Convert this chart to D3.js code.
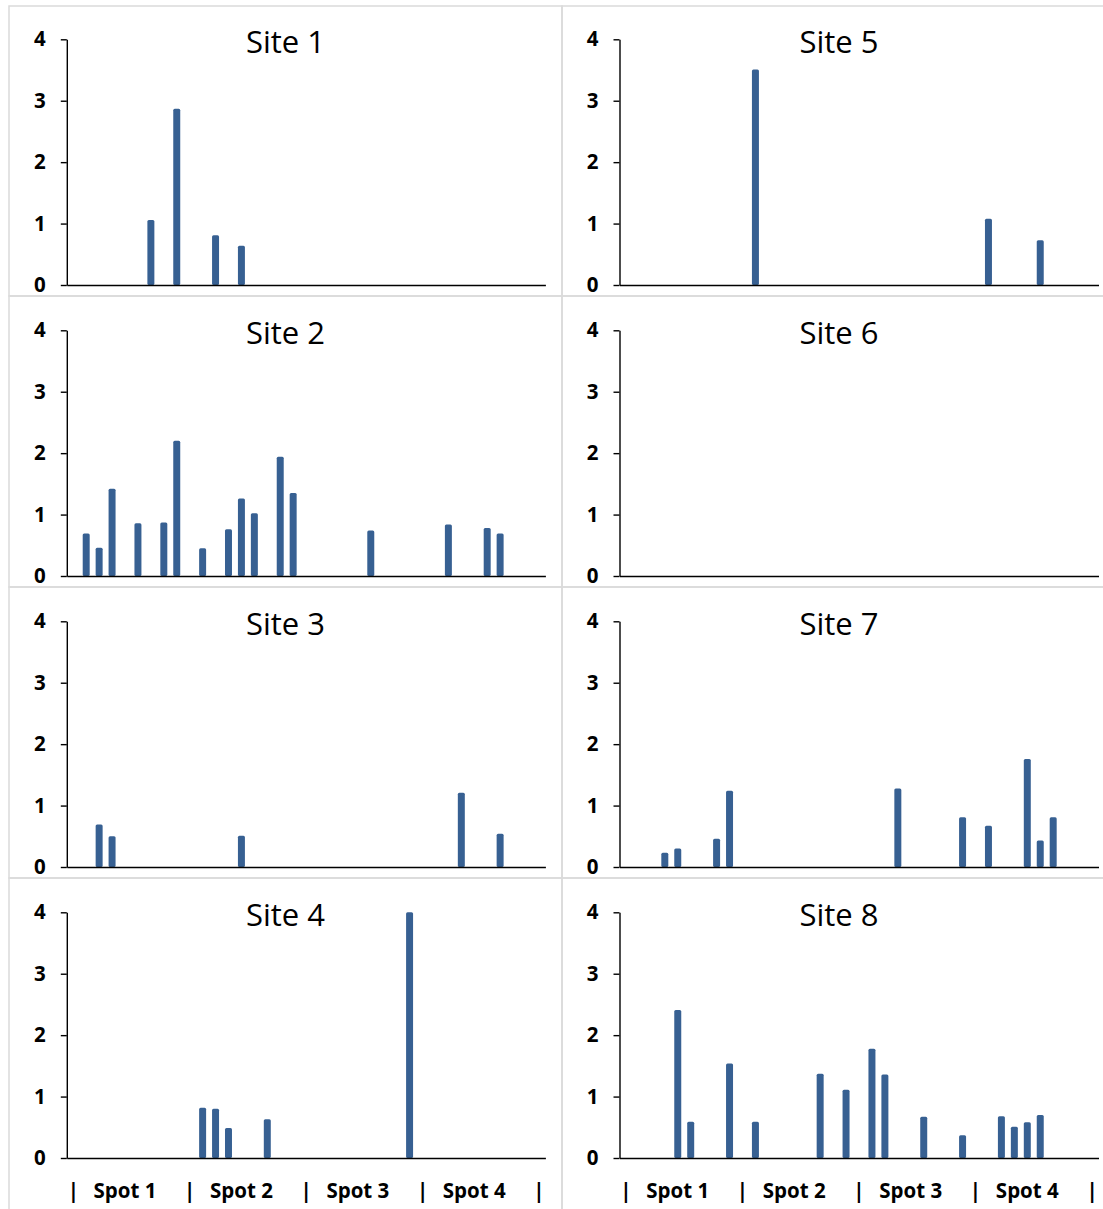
<!DOCTYPE html>
<html>
<head>
<meta charset="utf-8">
<script src="https://cdn.jsdelivr.net/npm/d3@7"></script>
<style>
  body { margin: 0; background: #fff; }
  text { font-family: "Open Sans", sans-serif; }
</style>
</head>
<body>
<svg id="chart" width="1103" height="1209"></svg>
<script>
// 37 slots along x, 9 per spot, "|" marks the spot borders
var slotLabels = ["|", "", "", "", "Spot 1", "", "", "", "",
                  "|", "", "", "", "Spot 2", "", "", "", "",
                  "|", "", "", "", "Spot 3", "", "", "", "",
                  "|", "", "", "", "Spot 4", "", "", "", "",
                  "|"];
var yTicks = [0, 1, 2, 3, 4];
var siteTitles = ["Site 1", "Site 2", "Site 3", "Site 4", "Site 5", "Site 6", "Site 7", "Site 8"];

var site1Slots = [6, 8, 11, 13];
var site1Values = [1.06, 2.87, 0.81, 0.64];
var site2Slots = [1, 2, 3, 5, 7, 8, 10, 12, 13, 14, 16, 17, 23, 29, 32, 33];
var site2Values = [0.69, 0.46, 1.42, 0.86, 0.87, 2.20, 0.45, 0.76, 1.26, 1.02, 1.94, 1.35, 0.74, 0.84, 0.78, 0.69];
var site3Slots = [2, 3, 13, 30, 33];
var site3Values = [0.69, 0.50, 0.51, 1.21, 0.54];
var site4Slots = [10, 11, 12, 15, 26];
var site4Values = [0.82, 0.80, 0.49, 0.63, 4.00];
var site5Slots = [10, 28, 32];
var site5Values = [3.51, 1.08, 0.73];
var site6Slots = [];
var site6Values = [];
var site7Slots = [3, 4, 7, 8, 21, 26, 28, 31, 32, 33];
var site7Values = [0.23, 0.30, 0.46, 1.24, 1.28, 0.81, 0.67, 1.76, 0.43, 0.81];
var site8Slots = [4, 5, 8, 10, 15, 17, 19, 20, 23, 26, 29, 30, 31, 32];
var site8Values = [2.41, 0.59, 1.54, 0.59, 1.37, 1.11, 1.78, 1.36, 0.67, 0.37, 0.68, 0.51, 0.58, 0.70];

var allSlots = [site1Slots, site2Slots, site3Slots, site4Slots, site5Slots, site6Slots, site7Slots, site8Slots];
var allValues = [site1Values, site2Values, site3Values, site4Values, site5Values, site6Values, site7Values, site8Values];

var barColor = '#376092';
var frameColor = '#dadada';
var rowStep = 291;
var rowTops = [6, 296, 587, 878];
var columns = [
  { frameX: 9, frameW: 553, x0: 66.8, x1: 545.4 },
  { frameX: 562, frameW: 554, x0: 619.5, x1: 1098.5 }
];

var svg = d3.select('#chart');

for (var p = 0; p < 8; p++) {
  var col = columns[Math.floor(p / 4)];
  var row = p % 4;
  var frameY = rowTops[row];
  var frameH = row == 3 ? 360 : rowTops[row + 1] - rowTops[row];
  var yTop = 39.3 + row * rowStep;
  var yBase = 285 + row * rowStep;

  var g = svg.append('g').attr('class', 'site');

  g.append('rect')
    .attr('x', col.frameX).attr('y', frameY)
    .attr('width', col.frameW).attr('height', frameH)
    .attr('fill', 'none')
    .attr('stroke', frameColor)
    .attr('stroke-width', 1.5);

  var x = d3.scaleBand()
    .domain(d3.range(slotLabels.length))
    .range([col.x0, col.x1])
    .paddingInner(0.46)
    .paddingOuter(0.23);
  var y = d3.scaleLinear().domain([0, 4]).range([yBase, yTop]);

  var bars = allSlots[p].map(function (s, i) { return { slot: s, value: allValues[p][i] }; });

  g.append('g').attr('class', 'bars')
    .selectAll('rect')
    .data(bars)
    .enter()
    .append('rect')
    .attr('x', function (d) { return x(d.slot); })
    .attr('y', function (d) { return y(d.value); })
    .attr('width', x.bandwidth())
    .attr('height', function (d) { return y(0) - y(d.value); })
    .attr('rx', 1.5)
    .attr('fill', barColor);

  // y axis
  var yAxis = g.append('g')
    .attr('transform', 'translate(' + col.x0 + ',0)')
    .call(d3.axisLeft(y).tickValues(yTicks).tickSize(6).tickSizeOuter(0).tickPadding(15).tickFormat(d3.format('d')));
  yAxis.selectAll('text')
    .attr('font-family', '"Open Sans", sans-serif')
    .attr('font-size', 20.5)
    .attr('font-weight', 'bold')
    .attr('fill', '#000');

  // x axis, labels only on the bottom row
  var xAxisGen = d3.axisBottom(x).tickSize(0).tickSizeOuter(0).tickPadding(25)
    .tickFormat(function (i) { return slotLabels[i]; });
  if (row != 3) xAxisGen.tickValues([]);
  var xAxis = g.append('g')
    .attr('transform', 'translate(0,' + yBase + ')')
    .call(xAxisGen);
  xAxis.selectAll('text')
    .attr('font-family', '"Open Sans", sans-serif')
    .attr('font-size', 20.5)
    .attr('font-weight', 'bold')
    .attr('fill', '#000');

  g.selectAll('.domain, .tick line')
    .attr('stroke', '#000')
    .attr('stroke-width', 1.4);

  g.append('text')
    .attr('x', col.frameX + col.frameW / 2)
    .attr('y', 53 + row * rowStep)
    .attr('text-anchor', 'middle')
    .attr('font-size', 31)
    .attr('fill', '#000')
    .text(siteTitles[p]);
}
</script>
</body>
</html>
